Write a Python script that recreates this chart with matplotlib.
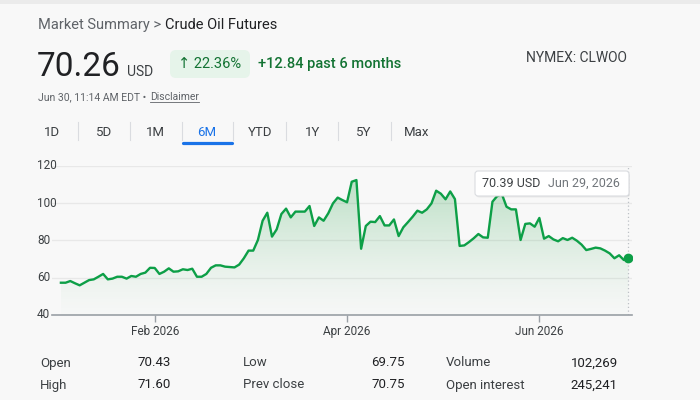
import matplotlib.pyplot as plt
import matplotlib.patches as mpatches
import matplotlib.transforms as mtransforms
import matplotlib.colors as mcolors
import numpy as np
import pandas as pd

plt.rcParams['font.family'] = ['Roboto', 'DejaVu Sans']

# ---- data ----
holidays = ["2026-01-19", "2026-02-16", "2026-04-03", "2026-05-25", "2026-06-19"]
dates = pd.bdate_range("2026-01-02", "2026-06-29", freq="C", holidays=holidays)

close = [
    57.3, 57.3, 58.2, 57.0, 55.9, 57.3, 58.7, 59.1, 60.5, 62.0,
    59.1, 59.5, 60.5, 60.5, 59.5, 60.9, 60.5, 62.0, 62.7, 65.3,
    65.2, 62.0, 63.2, 65.0, 63.2, 63.4, 64.5, 64.1, 64.8, 60.5,
    60.5, 62.0, 65.3, 66.6, 66.6, 65.9, 65.7, 65.5, 67.0, 70.4,
    74.5, 74.5, 80.2, 90.5, 94.8, 82.0, 85.9, 94.1, 97.0, 92.3,
    95.4, 95.4, 95.4, 98.4, 87.7, 92.3, 90.5, 94.5, 99.8, 102.9,
    101.6, 100.4, 111.4, 112.3, 75.5, 87.7, 90.0, 89.8, 93.0, 88.0,
    88.0, 91.2, 82.3, 87.0, 89.8, 92.7, 95.9, 94.8, 96.6, 99.8,
    106.6, 105.0, 102.0, 106.2, 102.1, 77.0, 77.3, 79.1, 81.1, 83.4,
    81.6, 81.4, 100.7, 103.7, 104.8, 98.0, 96.6, 96.6, 80.2, 88.8,
    89.1, 87.3, 92.0, 80.9, 82.3, 80.5, 79.5, 81.2, 80.2, 81.4,
    79.8, 77.7, 74.8, 75.4, 76.1, 75.7, 74.5, 73.0, 70.4, 72.0,
    69.5, 70.39,
]

y_ticks = [40, 60, 80, 100, 120]
tick_months = [(2026, 2), (2026, 4), (2026, 6)]

ranges = ["1D", "5D", "1M", "6M", "YTD", "1Y", "5Y", "Max"]
active_range = "6M"

stat_names = [["Open", "High"], ["Low", "Prev close"], ["Volume", "Open interest"]]
stat_values = [["70.43", "71.60"], ["69.75", "70.75"], ["102,269", "245,241"]]

last_price = "70.26"
change_pct = "22.36%"
change_abs = "+12.84"
ticker = "NYMEX: CLWOO"
timestamp = "Jun 30, 11:14 AM EDT"

# ---- styling ----
BG = "#f8f8f8"
GREEN = "#0d9f47"
FILL = "#34a853"
DARK = "#202124"
TEXT = "#3c4043"
GREY = "#5f6368"
BLUE = "#1a73e8"
W, H = 700, 400

fig = plt.figure(figsize=(W / 100, H / 100), dpi=100, facecolor=BG)
# pixel coords measured from the top-left corner
PX = mtransforms.Affine2D().scale(1, -1).translate(0, H).scale(1 / fig.dpi) + fig.dpi_scale_trans


def txt(x, y, s, **kw):
    return fig.text(x, y, s, transform=PX, **kw)


fig.patches.append(mpatches.Rectangle((0, 0), W, 4, transform=PX, color="#ebebeb", lw=0))

# ---- header ----
renderer = fig.canvas.get_renderer()
t = txt(38, 29, "Market Summary >", fontsize=10.5, color=GREY, va="baseline")
x_end = t.get_window_extent(renderer).x1
txt(x_end + 4, 29, "Crude Oil Futures", fontsize=10.5, color=DARK, va="baseline")

t = txt(37, 76, last_price, fontsize=24, color=DARK, va="baseline")
x_end = t.get_window_extent(renderer).x1
txt(x_end + 6, 76, "USD", fontsize=10, color=TEXT, va="baseline")

fig.patches.append(mpatches.FancyBboxPatch((170, 50), 80, 28, transform=PX,
                                           boxstyle="round,pad=0,rounding_size=6",
                                           fc="#e6f4ea", ec="none"))
txt(178, 68, "\u2191 " + change_pct, fontsize=10.5, color="#137333", va="baseline")
txt(258, 68, change_abs + " past 6 months", fontsize=10.5, color="#137333",
    va="baseline", fontweight="medium")
txt(526, 62, ticker, fontsize=10, color=TEXT, va="baseline")

t = txt(38, 100, timestamp + " \u2022 ", fontsize=7.5, color=GREY, va="baseline")
x_end = t.get_window_extent(renderer).x1
d = txt(x_end + 1, 100, "Disclaimer", fontsize=7.5, color=GREY, va="baseline")
bb = d.get_window_extent(renderer)
fig.lines.append(plt.Line2D([bb.x0, bb.x1], [102, 102], transform=PX, color=GREY, lw=0.6))

# ---- range tabs ----
tab_x = [52, 103.6, 155, 207, 260, 312.5, 364, 417]
for xc, lab in zip(tab_x, ranges):
    txt(xc, 136, lab, fontsize=9.5, ha="center", va="baseline",
        color=BLUE if lab == active_range else TEXT)
for xs in [78, 129.5, 181.7, 233, 285.7, 338, 390.6]:
    fig.lines.append(plt.Line2D([xs, xs], [122, 140], transform=PX, color="#dadce0", lw=0.8))
fig.lines.append(plt.Line2D([182.5, 231.5], [142.5, 142.5], transform=PX, color=BLUE,
                            lw=2.3, solid_capstyle="round"))

# ---- chart ----
ax = fig.add_axes([52 / W, 1 - 315 / H, 580 / W, (315 - 165.7) / H])
ax.set_facecolor("none")
x = np.arange(len(close))
vals = np.array(close)

ax.plot(x, vals, color=GREEN, lw=1.7, zorder=3, solid_joinstyle="round")
ax.plot(x[-1], vals[-1], "o", color=GREEN, ms=6, zorder=4)
ax.axvline(x[-1], color="#bdc1c6", lw=0.9, ls=(0, (1, 2)), zorder=2)

# gradient area under the line
ramp = np.linspace(0, 1, 256) ** 1.3
rgba = np.zeros((256, 1, 4))
rgba[..., :3] = mcolors.to_rgb(FILL)
rgba[..., 3] = (0.01 + 0.29 * ramp)[:, None]
im = ax.imshow(rgba, extent=[x[0], x[-1], 40, vals.max()], origin="lower",
               aspect="auto", zorder=1, interpolation="bilinear")
area = ax.fill_between(x, vals, 40, facecolor="none", edgecolor="none")
im.set_clip_path(area.get_paths()[0], transform=ax.transData)

ax.set_xlim(-1.9, 121.75)
ax.set_ylim(40, 120)
ax.set_yticks(y_ticks)
ax.grid(axis="y", color="#e8e8e8", lw=0.9)
ax.set_axisbelow(True)
ax.tick_params(axis="y", length=0, labelleft=False)
ylab_tr = mtransforms.blended_transform_factory(PX, ax.transData)
for v in y_ticks:
    fig.text(37, v, str(v), transform=ylab_tr, fontsize=8.5, color=TEXT, va="center")

tick_pos = [int(np.argmax((dates.year == yy) & (dates.month == mm))) for yy, mm in tick_months]
ax.set_xticks(tick_pos)
ax.set_xticklabels([dates[i].strftime("%b %Y") for i in tick_pos])
ax.tick_params(axis="x", length=5, width=1, color="#9aa0a6", labelsize=8.5,
               labelcolor=TEXT, pad=2)
for s in ["top", "right", "left"]:
    ax.spines[s].set_visible(False)
ax.spines["bottom"].set_color("#9aa0a6")
ax.spines["bottom"].set_linewidth(1.2)

# ---- tooltip ----
fig.patches.append(mpatches.FancyBboxPatch((476, 172.5), 154, 25, transform=PX,
                                           boxstyle="round,pad=0,rounding_size=3",
                                           fc="#000000", ec="none", alpha=0.06))
fig.patches.append(mpatches.FancyBboxPatch((475, 171), 154, 25, transform=PX,
                                           boxstyle="round,pad=0,rounding_size=3",
                                           fc="white", ec="#dadce0", lw=0.8))
txt(482.5, 183.5, f"{vals[-1]:.2f} USD", fontsize=9, color=TEXT, va="center")
txt(548, 183.5, dates[-1].strftime("%b %d, %Y").replace(" 0", " "), fontsize=9,
    color="#70757a", va="center")

# ---- stats ----
name_x = [40, 243, 445.5]
value_x = [137.5, 371.4, 570.5]
row_y = [363, 385]
for c in range(3):
    for r in range(2):
        txt(name_x[c], row_y[r], stat_names[c][r], fontsize=9.5, color=TEXT, va="center")
        txt(value_x[c], row_y[r], stat_values[c][r], fontsize=9.5, color=DARK, va="center")

fig.savefig("out.png", dpi=100, facecolor=fig.get_facecolor())
